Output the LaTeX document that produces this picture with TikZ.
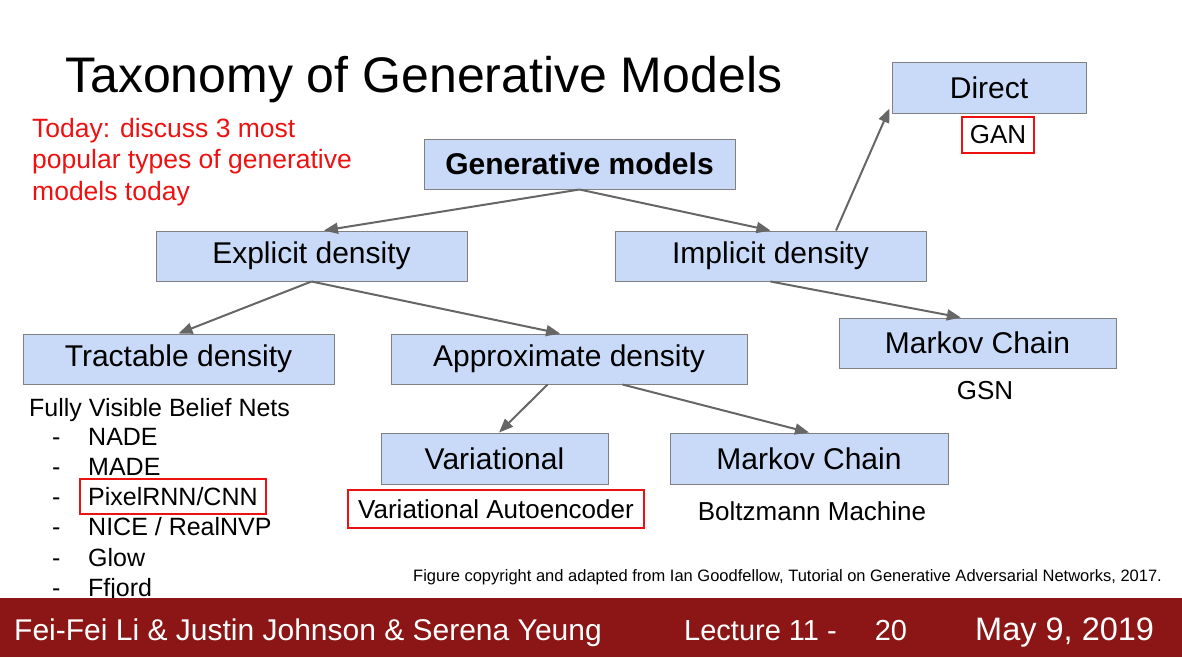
\documentclass[tikz,border=0pt]{standalone}
\usepackage{fontspec}
\setmainfont{Liberation Sans}
\usetikzlibrary{arrows.meta,calc,fit}
\definecolor{boxblue}{HTML}{C9DAF8}
\definecolor{boxgray}{HTML}{808080}
\definecolor{arrowgray}{HTML}{666666}
\definecolor{hlred}{HTML}{EE1111}
\definecolor{footred}{HTML}{8C1616}
\newcommand{\sz}[2]{\fontsize{#1}{#2}\selectfont}
\tikzset{
  box/.style={draw=boxgray, fill=boxblue, line width=1pt, inner sep=0pt, font=\sz{30}{36}},
  plain/.style={inner sep=0pt, font=\sz{26}{31}},
  hl/.style={draw=hlred, line width=2pt},
  link/.style={-{Triangle[length=14pt,width=11pt]}, draw=arrowgray, line width=2pt},
  foot/.style={inner sep=0pt, anchor=base west, text=white},
}
\begin{document}
\begin{tikzpicture}[x=1pt,y=-1pt]
    \useasboundingbox (0,0) rectangle (1182,657);

    % title and note
    \node[anchor=base west, inner sep=0pt, font=\sz{50}{60}] (title) at (65,92) {Taxonomy of Generative Models};
    \node[plain, anchor=north west, align=left, text=hlred, font=\sz{26.5}{31.5}] (note) at (32,118)
        {Today: discuss 3 most\\popular types of generative\\models today};

    % boxes
    \node[box, minimum width=311pt, minimum height=50pt, font=\sz{30}{36}\bfseries] (gen) at (579.5,164) {Generative models};
    \node[box, minimum width=311pt, minimum height=50pt] (expl) at (311.5,256) {Explicit density};
    \node[box, minimum width=311pt, minimum height=50pt] (impl) at (770.5,256) {Implicit density};
    \node[box, minimum width=194pt, minimum height=51pt] (direct) at (989,87.5) {Direct};
    \node[box, minimum width=311pt, minimum height=50pt] (tract) at (178.5,359) {Tractable density};
    \node[box, minimum width=356pt, minimum height=50pt] (approx) at (569,359) {Approximate density};
    \node[box, minimum width=277pt, minimum height=50pt] (mcright) at (977.5,343) {Markov Chain};
    \node[box, minimum width=227pt, minimum height=51pt] (vari) at (494.5,458.5) {Variational};
    \node[box, minimum width=278pt, minimum height=51pt] (mclow) at (809,458.5) {Markov Chain};

    % examples
    \node[plain, hl, minimum width=72pt, minimum height=36pt] (gan) at (998,135) {GAN};
    \node[plain] (gsn) at (985,391) {GSN};
    \node[plain, hl, minimum width=296pt, minimum height=38pt] (vae) at (496,509) {Variational Autoencoder};
    \node[plain] (boltz) at (812,511) {Boltzmann Machine};
    \node[plain, anchor=base west, font=\sz{25}{30}] (fvbn) at (29,416) {Fully Visible Belief Nets};
    \foreach \txt [count=\i] in {NADE,MADE,PixelRNN/CNN,NICE / RealNVP,Glow,Ffjord}
    {
        \node[plain, anchor=base west, font=\sz{25}{30}] (dash\i) at (52,{415+30.2*\i}) {-};
        \node[plain, anchor=base west, font=\sz{25}{30}] (item\i) at (88,{415+30.2*\i}) {\txt};
    }
    \node[hl, fit=(item3), inner sep=8pt] (pixelbox) {};

    % arrows
    \draw[link] (gen.south) -- ($(expl.north west)!0.54!(expl.north east)$);
    \draw[link] (gen.south) -- (impl.north);
    \draw[link] (expl.south) -- (tract.north);
    \draw[link] (expl.south) -- ($(approx.north west)!0.475!(approx.north east)$);
    \draw[link] ($(impl.north west)!0.71!(impl.north east)$) -- ($(direct.south west)+(-2,-5)$);
    \draw[link] (impl.south) -- ($(mcright.north west)!0.44!(mcright.north east)$);
    \draw[link] ($(approx.south west)!0.44!(approx.south east)$) -- ($(vari.north west)!0.52!(vari.north east)$);
    \draw[link] ($(approx.south west)!0.65!(approx.south east)$) -- (mclow.north);

    \node[inner sep=0pt, anchor=west, font=\sz{16.5}{20}] (credit) at (413,577)
        {Figure copyright and adapted from Ian Goodfellow, Tutorial on Generative Adversarial Networks, 2017.};

    % footer
    \fill[footred] (0,598) rectangle (1182,657);
    \node[foot, font=\sz{30}{36}] (authors) at (14,640) {Fei-Fei Li \& Justin Johnson \& Serena Yeung};
    \node[foot, font=\sz{29}{35}] (lecture) at (684,640) {Lecture 11 -\hspace{38pt}20};
    \node[foot, font=\sz{32.5}{38}] (date) at (975,640) {May 9, 2019};
\end{tikzpicture}
\end{document}
